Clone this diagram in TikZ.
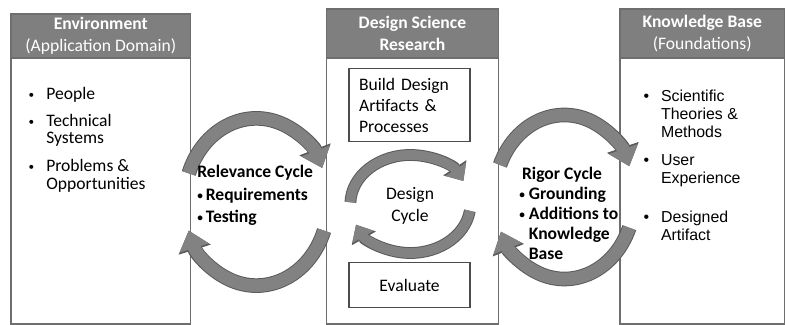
\documentclass[tikz,border=0pt]{standalone}
\usepackage{fontspec}
\setmainfont{Carlito}
\newfontfamily\arialfont{Liberation Sans}
\usepackage{tikz}
\usetikzlibrary{arrows.meta,positioning}
\definecolor{headgray}{HTML}{7F7F7F}
\definecolor{framegray}{HTML}{6E6E6E}
\definecolor{arrowgray}{HTML}{828282}
\definecolor{arrowedge}{HTML}{5A5A5A}
\newcommand{\smallbul}{\raisebox{0.12ex}{\fontsize{8}{8}\selectfont\textbullet}}
\newcommand{\bul}{\llap{\smallbul\hspace{0.3cm}}}
\newcommand{\kbbul}{\llap{\textbullet\hspace{0.3cm}}}

\begin{document}
\begin{tikzpicture}[
      panel/.style={draw=framegray, line width=1.2pt, fill=white, inner sep=0pt, anchor=north},
      head/.style={draw=framegray, line width=1.2pt, fill=headgray, text=white, align=center, inner sep=0pt, anchor=north, font=\fontsize{12.5}{15.5}\selectfont},
      activity/.style={draw=black!70, line width=1pt, inner sep=0pt, anchor=north, minimum width=3.025cm, font=\fontsize{12.5}{15}\selectfont},
      envitem/.style={anchor=west, align=left, inner sep=0pt, font=\fontsize{12.5}{12.4}\selectfont},
      kbitem/.style={anchor=west, align=left, inner sep=0pt, font=\arialfont\fontsize{11.3}{12.8}\selectfont},
      cyclabel/.style={anchor=west, align=left, inner sep=0pt, font=\bfseries\fontsize{12.5}{16}\selectfont},
      bigcycle/.style={draw=arrowgray, line width=9pt, -{Triangle[width=21pt,length=13pt]},
        preaction={draw=arrowedge, line width=10.4pt, -{Triangle[width=23pt,length=14.2pt]}}},
      smallcycle/.style={draw=arrowgray, line width=7pt, -{Triangle[width=17pt,length=10pt]},
        preaction={draw=arrowedge, line width=8.4pt, -{Triangle[width=19pt,length=11.2pt]}}}
  ]
    \useasboundingbox (0,0) rectangle (19.625,8.125);

    % Environment column
    \node[panel, minimum width=4.49cm, minimum height=7.75cm] (env) at (2.52,7.8) {};
    \node[head, minimum width=4.49cm, minimum height=1.11cm] (envHead) at (env.north) {\textbf{Environment}\\(Application Domain)};
    \node[envitem] (envPeople) at (1.15,5.75) {\bul People};
    \node[envitem] (envSystems) at (1.15,4.86) {\bul Technical\\Systems};
    \node[envitem] (envProblems) at (1.15,3.725) {\bul Problems \&\\Opportunities};

    % Design science research column
    \node[panel, minimum width=4.3cm, minimum height=7.875cm] (dsr) at (10.31,7.925) {};
    \node[head, minimum width=4.3cm, minimum height=1.225cm] (dsrHead) at (dsr.north) {\textbf{Design Science}\\\textbf{Research}};
    \node[activity, align=left, text width=2.525cm, inner xsep=0.25cm, minimum height=1.825cm] (build) at (10.24,6.425) {Build Design\\Artifacts \&\\Processes};
    \node[activity, minimum height=1.125cm] (evaluate) at (10.24,1.575) {Evaluate};

    % Knowledge base column
    \node[panel, minimum width=4.11cm, minimum height=7.875cm] (kb) at (17.556,7.925) {};
    \node[head, minimum width=4.11cm, minimum height=1.225cm] (kbHead) at (kb.north) {\textbf{Knowledge Base}\\(Foundations)};
    \node[kbitem] (kbTheories) at (16.52,5.29) {\kbbul Scientific\\Theories \&\\Methods};
    \node[kbitem] (kbUser) at (16.52,3.85) {\kbbul User\\Experience};
    \node[kbitem] (kbArtifact) at (16.52,2.475) {\kbbul Designed\\Artifact};

    % the three cycles
    \coordinate (relC) at (6.41,3.075);
    \coordinate (desC) at (10.26,3.025);
    \coordinate (rigC) at (14.11,3.2);

    \draw[bigcycle] (relC) ++(160:1.8 and 2.09) arc[start angle=160, end angle=24, x radius=1.8, y radius=2.09];
    \draw[bigcycle] (relC) ++(-20:1.8 and 2.09) arc[start angle=-20, end angle=-160, x radius=1.8, y radius=2.09];

    \draw[smallcycle] (desC) ++(178:1.5 and 1.225) arc[start angle=178, end angle=28, x radius=1.5, y radius=1.225];
    \draw[smallcycle] (desC) ++(-8:1.5 and 1.225) arc[start angle=-8, end angle=-155, x radius=1.5, y radius=1.225];

    \draw[bigcycle] (rigC) ++(157:1.75 and 2.05) arc[start angle=157, end angle=22, x radius=1.75, y radius=2.05];
    \draw[bigcycle] (rigC) ++(-22:1.75 and 2.05) arc[start angle=-22, end angle=-155, x radius=1.75, y radius=2.05];

    % cycle labels
    \node[cyclabel] (relLabel) at (4.925,3.236) {Relevance Cycle\\\smallbul\,Requirements\\\smallbul\,Testing};
    \node[align=center, inner sep=0pt, font=\fontsize{12.5}{15.6}\selectfont] (desLabel) at (10.25,2.975) {Design\\Cycle};
    \node[cyclabel, font=\bfseries\fontsize{12.5}{14.2}\selectfont] (rigLabel) at (12.975,2.8) {\hspace*{2pt}Rigor Cycle\\\smallbul\ Grounding\\\smallbul\ Additions to\\\phantom{\smallbul\ }Knowledge\\\phantom{\smallbul\ }Base};
  \end{tikzpicture}
\end{document}
